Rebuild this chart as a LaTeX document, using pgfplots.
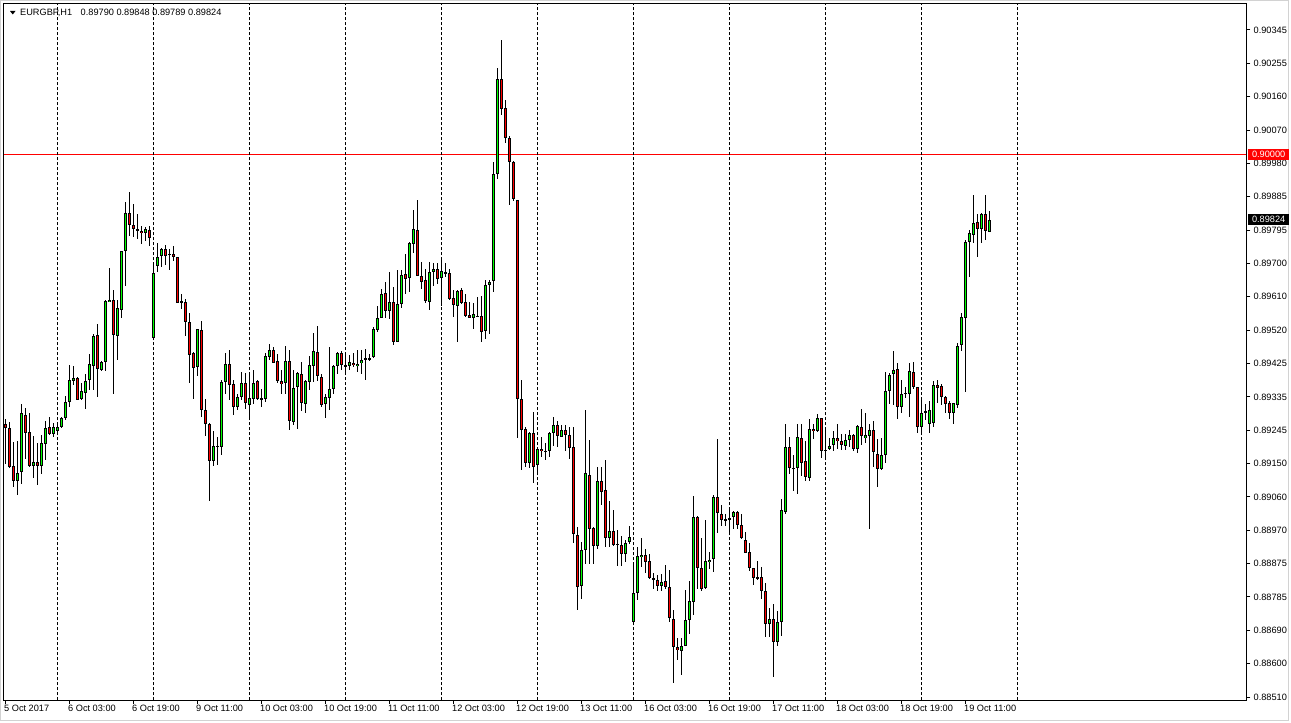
\documentclass[border=0pt]{standalone}
\usepackage{fontspec}
\setmainfont{Liberation Sans}
\usepackage{pgfplots}
\usepackage{pgfplotstable}
\pgfplotsset{compat=1.18}

\definecolor{bull}{RGB}{0,255,0}
\definecolor{bear}{RGB}{255,0,0}

% EURGBP H1, bar index and open / high / low / close
\pgfplotstableread{
i o h l c
0 0.89263 0.89277 0.89153 0.89252
1 0.89252 0.89268 0.89141 0.89144
2 0.89146 0.89212 0.89087 0.89105
3 0.89105 0.89217 0.89066 0.89128
4 0.89128 0.89316 0.89096 0.89290
5 0.89288 0.89307 0.89167 0.89238
6 0.89241 0.89293 0.89144 0.89146
7 0.89146 0.89228 0.89112 0.89158
8 0.89158 0.89208 0.89093 0.89146
9 0.89147 0.89230 0.89125 0.89208
10 0.89208 0.89270 0.89162 0.89252
11 0.89252 0.89281 0.89231 0.89235
12 0.89235 0.89265 0.89226 0.89252
13 0.89243 0.89268 0.89231 0.89254
14 0.89254 0.89281 0.89252 0.89277
15 0.89277 0.89340 0.89272 0.89321
16 0.89321 0.89426 0.89309 0.89381
17 0.89381 0.89421 0.89368 0.89389
18 0.89387 0.89391 0.89327 0.89327
19 0.89329 0.89373 0.89327 0.89352
20 0.89347 0.89399 0.89301 0.89381
21 0.89381 0.89455 0.89355 0.89425
22 0.89422 0.89509 0.89355 0.89504
23 0.89506 0.89538 0.89336 0.89412
24 0.89411 0.89435 0.89408 0.89433
25 0.89433 0.89602 0.89408 0.89599
26 0.89598 0.89692 0.89598 0.89604
27 0.89604 0.89630 0.89345 0.89508
28 0.89505 0.89604 0.89437 0.89580
29 0.89577 0.89737 0.89552 0.89737
30 0.89737 0.89873 0.89642 0.89843
31 0.89843 0.89900 0.89781 0.89810
32 0.89810 0.89868 0.89776 0.89797
33 0.89797 0.89839 0.89772 0.89793
34 0.89793 0.89806 0.89758 0.89786
35 0.89788 0.89804 0.89767 0.89797
36 0.89795 0.89806 0.89752 0.89775
37 0.89497 0.89708 0.89492 0.89678
38 0.89697 0.89758 0.89680 0.89721
39 0.89724 0.89744 0.89694 0.89743
40 0.89743 0.89756 0.89699 0.89724
41 0.89731 0.89744 0.89685 0.89727
42 0.89731 0.89749 0.89710 0.89721
43 0.89722 0.89722 0.89596 0.89596
44 0.89599 0.89619 0.89579 0.89595
45 0.89599 0.89607 0.89506 0.89543
46 0.89544 0.89566 0.89375 0.89453
47 0.89457 0.89460 0.89332 0.89417
48 0.89417 0.89524 0.89393 0.89524
49 0.89522 0.89544 0.89281 0.89300
50 0.89301 0.89330 0.89228 0.89263
51 0.89263 0.89265 0.89052 0.89160
52 0.89160 0.89243 0.89146 0.89202
53 0.89202 0.89226 0.89148 0.89199
54 0.89199 0.89384 0.89176 0.89377
55 0.89377 0.89457 0.89345 0.89428
56 0.89428 0.89465 0.89327 0.89370
57 0.89373 0.89382 0.89288 0.89309
58 0.89309 0.89345 0.89300 0.89336
59 0.89336 0.89403 0.89327 0.89376
60 0.89373 0.89402 0.89304 0.89318
61 0.89312 0.89402 0.89272 0.89332
62 0.89330 0.89410 0.89318 0.89376
63 0.89381 0.89382 0.89327 0.89330
64 0.89333 0.89359 0.89309 0.89329
65 0.89330 0.89458 0.89323 0.89451
66 0.89446 0.89483 0.89437 0.89465
67 0.89466 0.89474 0.89430 0.89430
68 0.89434 0.89454 0.89373 0.89379
69 0.89379 0.89410 0.89345 0.89373
70 0.89373 0.89478 0.89345 0.89436
71 0.89436 0.89467 0.89245 0.89269
72 0.89269 0.89410 0.89258 0.89362
73 0.89362 0.89405 0.89249 0.89401
74 0.89399 0.89433 0.89298 0.89318
75 0.89318 0.89382 0.89292 0.89380
76 0.89378 0.89448 0.89355 0.89423
77 0.89422 0.89513 0.89376 0.89464
78 0.89461 0.89533 0.89382 0.89393
79 0.89392 0.89399 0.89309 0.89313
80 0.89316 0.89344 0.89279 0.89334
81 0.89334 0.89473 0.89300 0.89359
82 0.89359 0.89425 0.89345 0.89421
83 0.89421 0.89460 0.89398 0.89456
84 0.89458 0.89463 0.89410 0.89423
85 0.89423 0.89456 0.89400 0.89421
86 0.89421 0.89452 0.89410 0.89431
87 0.89431 0.89456 0.89417 0.89425
88 0.89422 0.89467 0.89405 0.89428
89 0.89428 0.89467 0.89399 0.89439
90 0.89439 0.89467 0.89382 0.89442
91 0.89442 0.89456 0.89437 0.89442
92 0.89445 0.89529 0.89442 0.89524
93 0.89522 0.89586 0.89515 0.89555
94 0.89555 0.89632 0.89552 0.89621
95 0.89623 0.89653 0.89555 0.89573
96 0.89573 0.89680 0.89552 0.89596
97 0.89596 0.89639 0.89478 0.89488
98 0.89488 0.89685 0.89488 0.89593
99 0.89593 0.89685 0.89582 0.89673
100 0.89673 0.89729 0.89619 0.89661
101 0.89661 0.89763 0.89625 0.89758
102 0.89758 0.89850 0.89731 0.89797
103 0.89797 0.89877 0.89669 0.89669
104 0.89669 0.89708 0.89634 0.89655
105 0.89659 0.89687 0.89593 0.89600
106 0.89596 0.89706 0.89573 0.89681
107 0.89681 0.89705 0.89643 0.89689
108 0.89689 0.89705 0.89648 0.89662
109 0.89664 0.89721 0.89588 0.89682
110 0.89679 0.89705 0.89666 0.89677
111 0.89676 0.89688 0.89602 0.89606
112 0.89607 0.89630 0.89555 0.89588
113 0.89588 0.89630 0.89488 0.89628
114 0.89632 0.89636 0.89593 0.89596
115 0.89596 0.89621 0.89556 0.89559
116 0.89561 0.89596 0.89552 0.89554
117 0.89554 0.89595 0.89522 0.89563
118 0.89561 0.89611 0.89556 0.89558
119 0.89558 0.89613 0.89488 0.89515
120 0.89517 0.89657 0.89495 0.89645
121 0.89645 0.89660 0.89511 0.89654
122 0.89655 0.89981 0.89626 0.89950
123 0.89950 0.90242 0.89936 0.90210
124 0.90210 0.90319 0.90112 0.90130
125 0.90130 0.90154 0.90035 0.90047
126 0.90047 0.90055 0.89864 0.89983
127 0.89983 0.89985 0.89874 0.89881
128 0.89879 0.89879 0.89224 0.89331
129 0.89331 0.89382 0.89134 0.89245
130 0.89248 0.89253 0.89142 0.89153
131 0.89153 0.89240 0.89141 0.89236
132 0.89236 0.89295 0.89100 0.89144
133 0.89150 0.89198 0.89121 0.89194
134 0.89193 0.89227 0.89172 0.89186
135 0.89186 0.89209 0.89162 0.89187
136 0.89188 0.89240 0.89170 0.89236
137 0.89236 0.89279 0.89201 0.89260
138 0.89260 0.89269 0.89199 0.89230
139 0.89227 0.89258 0.89225 0.89246
140 0.89246 0.89258 0.89188 0.89232
141 0.89232 0.89253 0.89167 0.89196
142 0.89198 0.89253 0.88935 0.88960
143 0.88958 0.88979 0.88751 0.88815
144 0.88815 0.88937 0.88782 0.88914
145 0.88914 0.89300 0.88877 0.89126
146 0.89123 0.89217 0.88875 0.88974
147 0.88975 0.88979 0.88875 0.88927
148 0.88927 0.89144 0.88919 0.89105
149 0.89105 0.89144 0.89041 0.89075
150 0.89080 0.89164 0.88924 0.88949
151 0.88949 0.89050 0.88924 0.88967
152 0.88967 0.89025 0.88926 0.88930
153 0.88930 0.88971 0.88871 0.88930
154 0.88930 0.88953 0.88871 0.88905
155 0.88905 0.88942 0.88882 0.88936
156 0.88936 0.88981 0.88933 0.88951
157 0.88716 0.88882 0.88713 0.88798
158 0.88798 0.88924 0.88779 0.88898
159 0.88895 0.88948 0.88867 0.88901
160 0.88901 0.88916 0.88852 0.88882
161 0.88884 0.88905 0.88837 0.88837
162 0.88837 0.88850 0.88806 0.88834
163 0.88834 0.88846 0.88804 0.88816
164 0.88816 0.88850 0.88804 0.88828
165 0.88828 0.88876 0.88809 0.88812
166 0.88812 0.88859 0.88717 0.88727
167 0.88724 0.88749 0.88550 0.88649
168 0.88649 0.88674 0.88614 0.88639
169 0.88638 0.88672 0.88571 0.88651
170 0.88651 0.88804 0.88650 0.88721
171 0.88721 0.88829 0.88685 0.88773
172 0.88773 0.89063 0.88736 0.89007
173 0.89007 0.89008 0.88806 0.88867
174 0.88867 0.88948 0.88804 0.88809
175 0.88809 0.88997 0.88809 0.88883
176 0.88883 0.88910 0.88863 0.88889
177 0.88889 0.89068 0.88855 0.89059
178 0.89059 0.89220 0.88960 0.89015
179 0.89015 0.89038 0.88981 0.88999
180 0.88999 0.89014 0.88981 0.89000
181 0.88999 0.89034 0.88956 0.89004
182 0.89006 0.89022 0.88974 0.89020
183 0.89020 0.89022 0.88974 0.88985
184 0.88983 0.89015 0.88947 0.88947
185 0.88944 0.88965 0.88907 0.88908
186 0.88908 0.88933 0.88858 0.88866
187 0.88866 0.88866 0.88818 0.88839
188 0.88842 0.88884 0.88834 0.88837
189 0.88841 0.88867 0.88780 0.88803
190 0.88801 0.88826 0.88676 0.88711
191 0.88711 0.88754 0.88676 0.88726
192 0.88726 0.88768 0.88566 0.88663
193 0.88663 0.88748 0.88650 0.88716
194 0.88716 0.89057 0.88679 0.89025
195 0.89020 0.89261 0.89015 0.89197
196 0.89197 0.89224 0.89124 0.89139
197 0.89139 0.89176 0.89078 0.89140
198 0.89140 0.89261 0.89070 0.89224
199 0.89224 0.89261 0.89118 0.89156
200 0.89159 0.89213 0.89105 0.89117
201 0.89113 0.89277 0.89105 0.89249
202 0.89249 0.89261 0.89219 0.89242
203 0.89242 0.89288 0.89240 0.89277
204 0.89277 0.89279 0.89169 0.89188
205 0.89191 0.89245 0.89171 0.89188
206 0.89194 0.89224 0.89190 0.89202
207 0.89202 0.89243 0.89188 0.89222
208 0.89222 0.89261 0.89191 0.89215
209 0.89214 0.89235 0.89190 0.89205
210 0.89202 0.89235 0.89191 0.89217
211 0.89217 0.89245 0.89199 0.89233
212 0.89233 0.89235 0.89188 0.89194
213 0.89194 0.89260 0.89182 0.89257
214 0.89254 0.89304 0.89203 0.89228
215 0.89222 0.89293 0.89210 0.89230
216 0.89228 0.89263 0.88974 0.89246
217 0.89245 0.89270 0.89144 0.89183
218 0.89180 0.89219 0.89087 0.89139
219 0.89139 0.89222 0.89135 0.89178
220 0.89178 0.89404 0.89155 0.89354
221 0.89354 0.89402 0.89316 0.89398
222 0.89398 0.89462 0.89313 0.89411
223 0.89414 0.89430 0.89277 0.89307
224 0.89309 0.89382 0.89292 0.89345
225 0.89345 0.89364 0.89332 0.89348
226 0.89345 0.89430 0.89281 0.89406
227 0.89406 0.89434 0.89359 0.89364
228 0.89362 0.89366 0.89238 0.89252
229 0.89254 0.89329 0.89234 0.89293
230 0.89293 0.89316 0.89272 0.89298
231 0.89263 0.89327 0.89237 0.89300
232 0.89263 0.89379 0.89254 0.89370
233 0.89370 0.89382 0.89318 0.89361
234 0.89365 0.89371 0.89315 0.89334
235 0.89337 0.89338 0.89292 0.89318
236 0.89318 0.89324 0.89275 0.89293
237 0.89293 0.89320 0.89260 0.89318
238 0.89315 0.89486 0.89306 0.89478
239 0.89478 0.89566 0.89463 0.89555
240 0.89555 0.89767 0.89350 0.89763
241 0.89763 0.89795 0.89666 0.89786
242 0.89783 0.89891 0.89761 0.89815
243 0.89818 0.89841 0.89721 0.89799
244 0.89799 0.89842 0.89760 0.89838
245 0.89838 0.89891 0.89767 0.89793
246 0.89790 0.89848 0.89789 0.89824
}\bars

\begin{document}
\fontsize{9.2}{11}\selectfont
\begin{tikzpicture}
\fill[white] (0pt,0pt) rectangle (1291pt,723pt);
\draw[gray!35, line width=1pt] (0.5pt,2.5pt) rectangle (1288.5pt,722.5pt);
% 0.90000 level, one pixel row, under the candles
\fill[bear] (4pt,568pt) rectangle (1246pt,569pt);
\begin{axis}[
  at={(3.5pt,22.5pt)}, anchor=south west,
  scale only axis, width=1243pt, height=697pt,
  xmin=-0.5, xmax=310.25,
  ymin=0.885004, ymax=0.904179,
  clip=false,
  axis line style={black, line width=1pt},
  tick style={black, line width=1pt},
  tick align=outside,
  major tick length=4pt,
  /pgf/number format/assume math mode=true,
  xtick={0,16,...,240},
  xticklabels={5 Oct 2017, 6 Oct 03:00, 6 Oct 19:00, 9 Oct 11:00, 10 Oct 03:00,
    10 Oct 19:00, 11 Oct 11:00, 12 Oct 03:00, 12 Oct 19:00, 13 Oct 11:00,
    16 Oct 03:00, 16 Oct 19:00, 17 Oct 11:00, 18 Oct 03:00, 18 Oct 19:00, 19 Oct 11:00},
  xtick pos=bottom,
  xticklabel style={anchor=north west, inner sep=0pt, xshift=-1.5pt},
  extra x ticks={13,37,...,253},
  extra x tick labels={},
  extra x tick style={grid=major, major tick length=0pt},
  major grid style={black, line width=1pt, dash pattern=on 3pt off 2pt},
  ytick={0.88510,0.8860175,0.886935,0.8878525,0.88877,0.8896875,0.890605,
    0.8915225,0.89244,0.8933575,0.894275,0.8951925,0.89611,0.8970275,
    0.897945,0.8988625,0.89978,0.9006975,0.901615,0.9025325,0.90345},
  yticklabels={0.88510,0.88600,0.88690,0.88785,0.88875,0.88970,0.89060,
    0.89150,0.89245,0.89335,0.89425,0.89520,0.89610,0.89700,
    0.89795,0.89885,0.89980,0.90070,0.90160,0.90255,0.90345},
  ytick pos=right, yticklabel pos=right,
  yticklabel style={anchor=west, inner sep=0pt, xshift=3pt},
]
% wicks
\addplot[draw=none, error bars/.cd, y dir=both, y explicit, error mark=none,
  error bar style={draw=black, line width=1pt}]
  table[x=i, y expr={(\thisrow{h}+\thisrow{l})/2},
    y error expr={(\thisrow{h}-\thisrow{l})/2}] {\bars};
% bodies
\addplot[draw=none, error bars/.cd, y dir=both, y explicit, error mark=none,
  error bar style={draw=black, line width=3pt}]
  table[x=i, y expr={(\thisrow{o}+\thisrow{c})/2},
    y error expr={max(abs(\thisrow{c}-\thisrow{o})/2,0.000014)}] {\bars};
\addplot[draw=none, error bars/.cd, y dir=both, y explicit, error mark=none,
  error bar style={draw=bull, line width=1pt}]
  table[x=i, y expr={(\thisrow{o}+\thisrow{c})/2},
    y error expr={max((\thisrow{c}-\thisrow{o})/2-0.0000275,0)}] {\bars};
\addplot[draw=none, error bars/.cd, y dir=both, y explicit, error mark=none,
  error bar style={draw=bear, line width=1pt}]
  table[x=i, y expr={(\thisrow{o}+\thisrow{c})/2},
    y error expr={max((\thisrow{o}-\thisrow{c})/2-0.0000275,0)}] {\bars};
\node[fill=bear, text=white, inner sep=0pt, minimum width=41pt, minimum height=11pt,
  anchor=west, xshift=1.5pt, yshift=1pt] at (axis cs:310.25,0.90000) {0.90000};
\node[fill=black, text=white, inner sep=0pt, minimum width=41pt, minimum height=11pt,
  anchor=west, xshift=1.5pt] at (axis cs:310.25,0.89824) {0.89824};
\end{axis}
\fill[black] (10pt,712pt) -- (15.5pt,712pt) -- (12.75pt,708.5pt) -- cycle;
\node[anchor=base west, inner sep=0pt] at (20pt,707pt)
  {EURGBP,H1\hspace{6pt} 0.89790 0.89848 0.89789 0.89824};
\pgfresetboundingbox
\path[use as bounding box] (0pt,0pt) rectangle (1291pt,723pt);
\end{tikzpicture}
\end{document}
